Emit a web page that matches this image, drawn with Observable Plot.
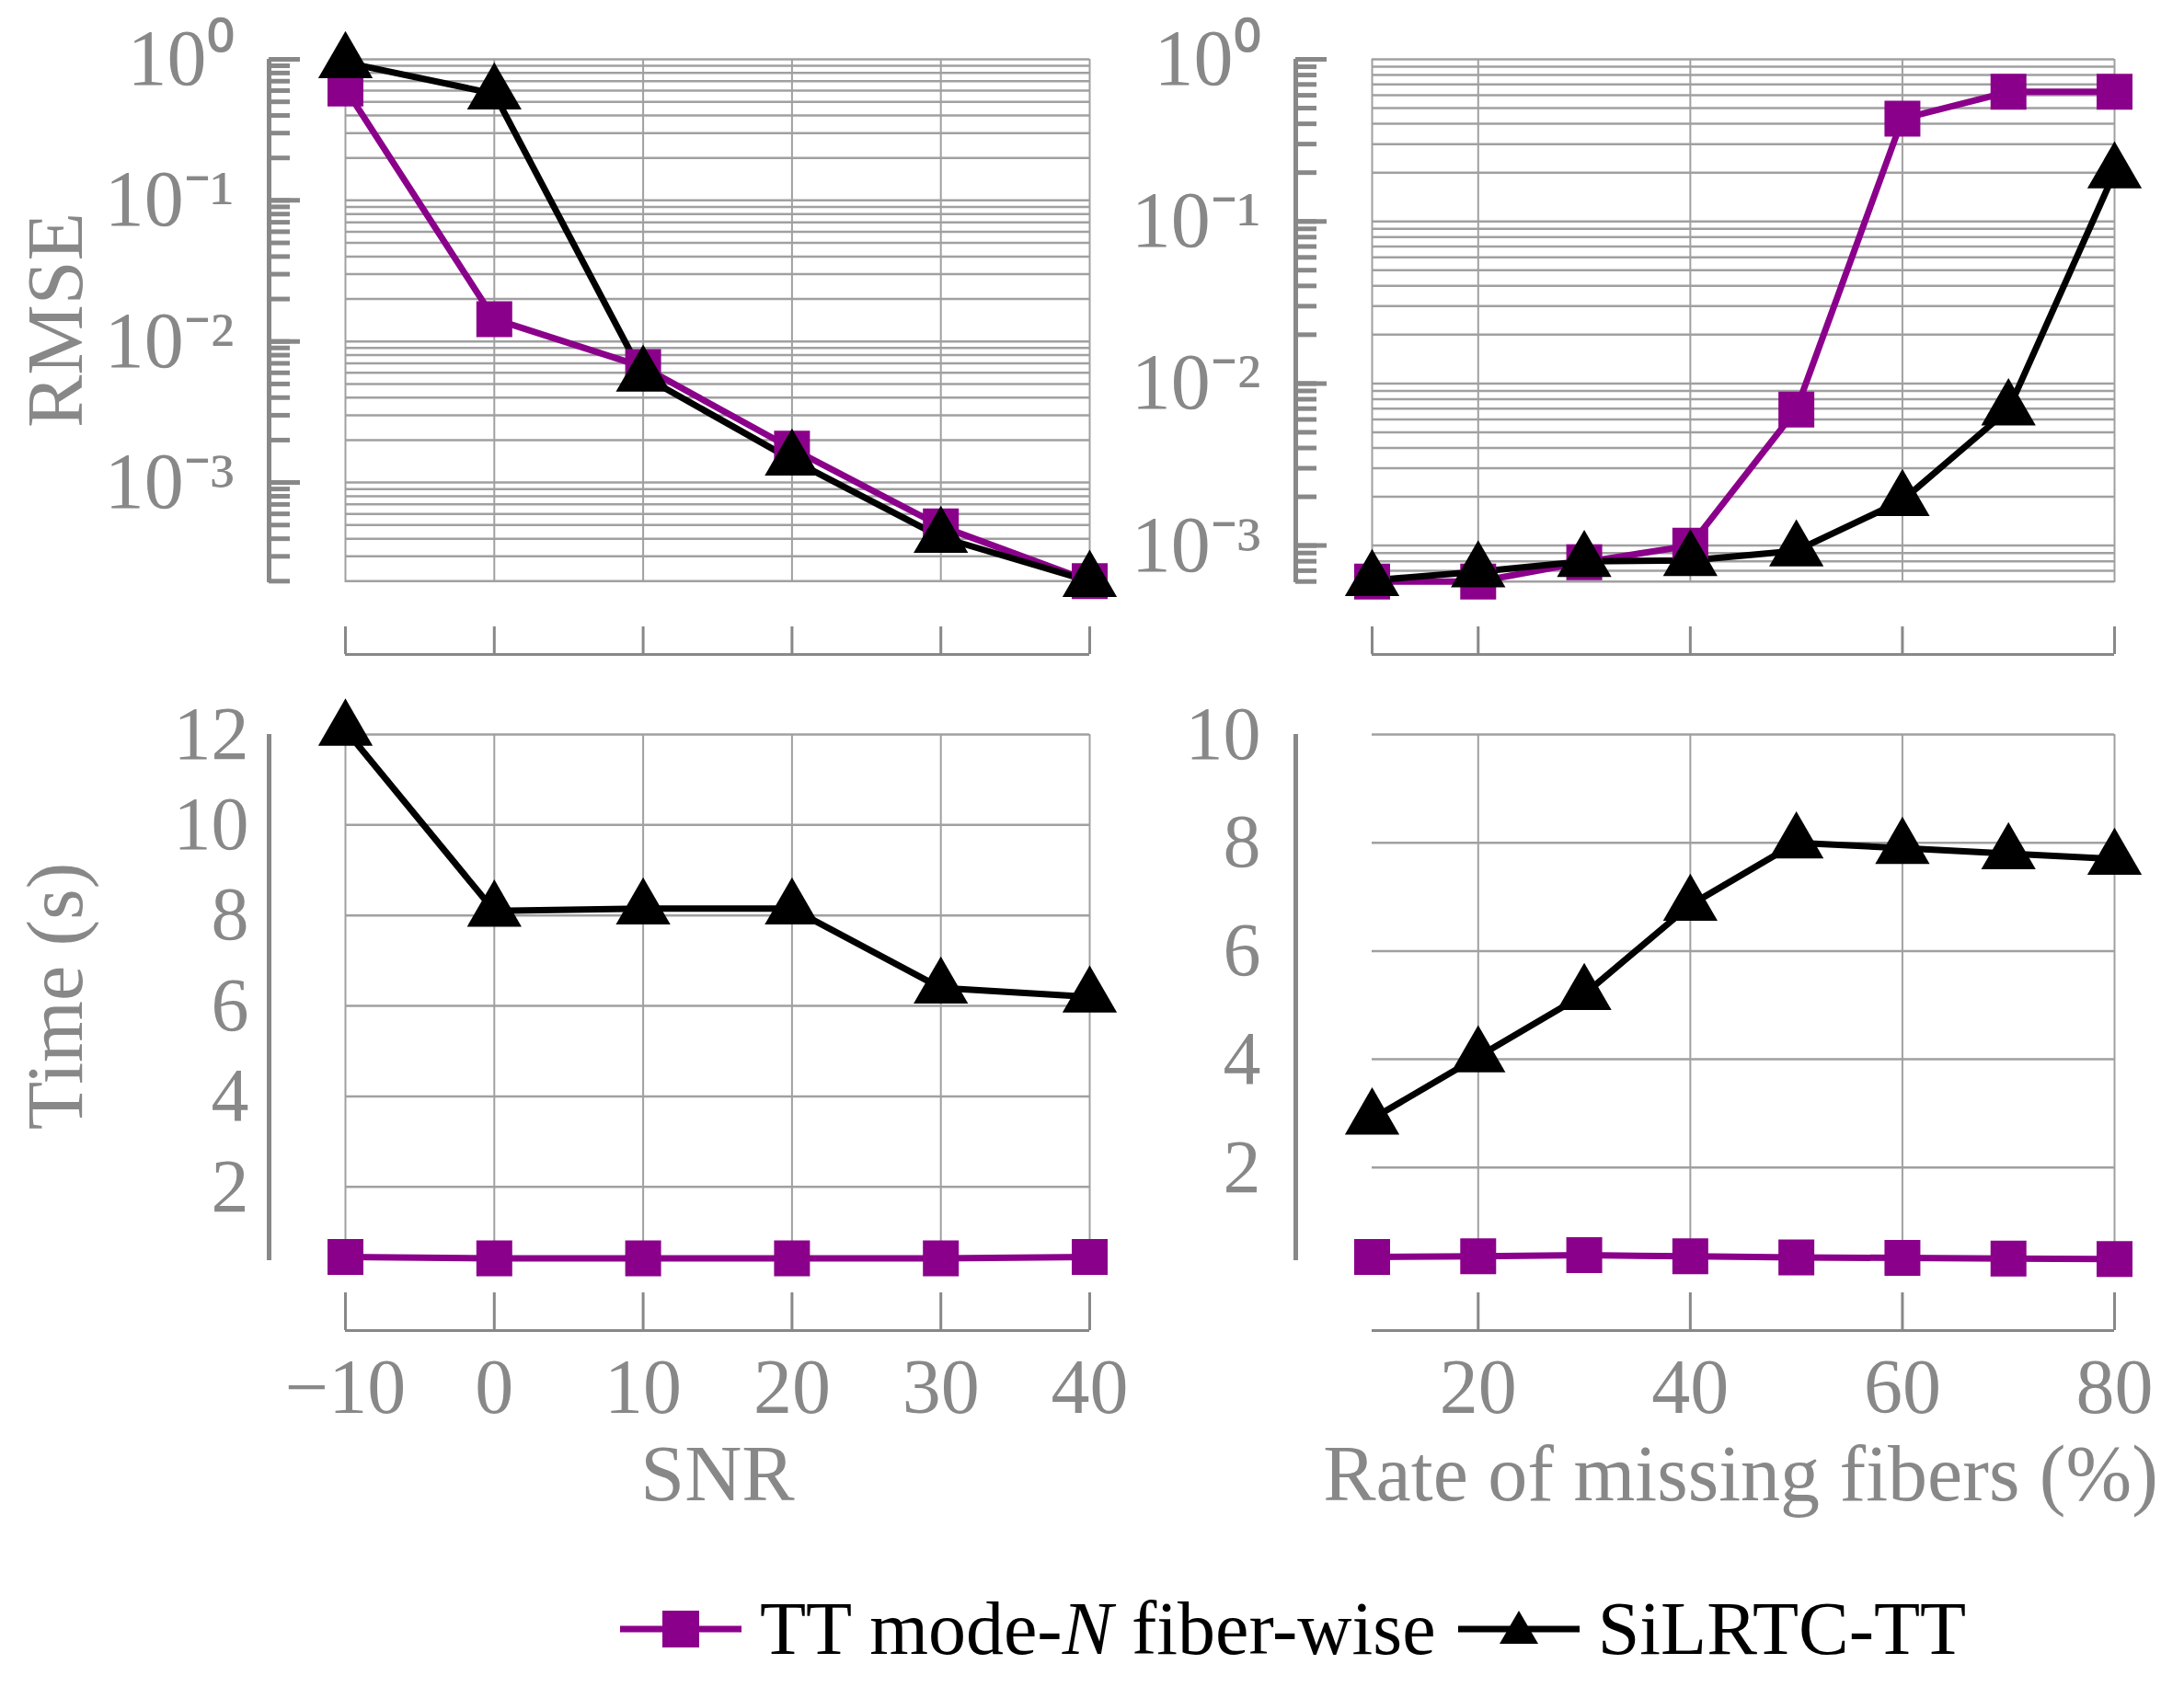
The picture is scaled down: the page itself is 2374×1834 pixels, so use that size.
<!DOCTYPE html>
<html><head><meta charset="utf-8">
<script src="https://cdn.jsdelivr.net/npm/d3@7"></script>
<script src="https://cdn.jsdelivr.net/npm/@observablehq/plot@0.6"></script>
<style>
body{margin:0;background:#fff;width:2374px;height:1834px;position:relative;overflow:hidden;font-family:"Liberation Serif",serif;color:#888}
.p{position:absolute}
.t{position:absolute;font-size:86px;color:#888;white-space:nowrap}
</style></head><body>
<div id="root"></div>
<script>
const snr=[-10,0,10,20,30,40];
const rmseTT_snr=[0.62,0.0144,0.0066,0.00174,0.00049,0.0002];
const rmseSi_snr=[0.95,0.57,0.0057,0.00145,0.00041,0.0002];
const rates=[10,20,30,40,50,60,70,80];
const rmseTT_rate=[0.0006,0.0006,0.00079,0.001,0.0069,0.43,0.63,0.63];
const rmseSi_rate=[0.00061,0.00069,0.0008,0.00081,0.00093,0.0019,0.0069,0.2];
const timeTT_snr=[0.45,0.42,0.42,0.42,0.42,0.45];
const timeSi_snr=[12.1,8.1,8.15,8.15,6.4,6.2];
const timeTT_rate=[0.35,0.36,0.38,0.36,0.34,0.33,0.32,0.31];
const timeSi_rate=[2.9,4.05,5.2,6.85,8.0,7.9,7.8,7.7];
const snrTicks=[-10,0,10,20,30,40];
const rateTicks=[20,40,60,80];
const logMajors=[1e-3,1e-2,1e-1,1];
const timeTicksL=[2,4,6,8,10,12];
const timeTicksR=[2,4,6,8,10];

const PURPLE="#8b008b", GRAY="#888", GRID="#a0a0a0";
const sup={"0":"⁰","1":"¹","2":"²","3":"³","4":"⁴","-":"⁻"};
const fmtLog=v=>"10"+String(Math.round(Math.log10(v))).split("").map(c=>sup[c]).join("");

function minors(dom){const out=[];for(let d=-4;d<=0;d++)for(let k=1;k<=9;k++){const v=k*Math.pow(10,d);if(v>=dom[0]*0.999&&v<=dom[1]*1.001)out.push(v);}return out;}

function panel(o){
  const tt=o.x.map((x,i)=>({x,y:o.tt[i]})), si=o.x.map((x,i)=>({x,y:o.si[i]}));
  const isLog=o.log;
  const yGrid=isLog?minors(o.yDomain):o.yTicks;
  const marks=[
    Plot.gridX(o.xTicks,{stroke:GRID,strokeOpacity:1,strokeWidth:2}),
    Plot.gridY(yGrid,{stroke:GRID,strokeOpacity:1,strokeWidth:2.5}),
    Plot.ruleX([o.xDomain[0]],{y1:o.yDomain[0],y2:o.yDomain[1],dx:-83,stroke:GRAY,strokeWidth:5}),
    Plot.ruleY([o.yDomain[0]],{x1:o.xDomain[0],x2:o.xDomain[1],dy:o.axDy,stroke:GRAY,strokeWidth:3}),
    Plot.axisX(o.xTicks,{anchor:"bottom",tickSize:-o.tickLen,dy:o.axDy,text:null,stroke:GRAY,strokeWidth:3,label:null}),
  ];
  if(isLog){
    marks.push(Plot.axisY(minors(o.yDomain),{anchor:"left",tickSize:-23,dx:-83,text:null,stroke:GRAY,strokeWidth:5,label:null}));
    marks.push(Plot.axisY(logMajors,{anchor:"left",tickSize:-34,dx:-83,text:null,stroke:GRAY,strokeWidth:5,label:null}));
  }
  marks.push(Plot.axisY(isLog?logMajors:o.yTicks,{anchor:"left",tickSize:0,tickPadding:o.yPad,dx:-83,tickFormat:isLog?fmtLog:d=>String(d),fontSize:isLog?86:82,fill:GRAY,label:null}));
  if(o.xLabels) marks.push(Plot.axisX(o.xTicks,{anchor:"bottom",tickSize:0,tickPadding:30,dy:o.axDy,fontSize:84,fill:GRAY,label:null}));
  marks.push(
    Plot.line(tt,{x:"x",y:"y",stroke:PURPLE,strokeWidth:7}),
    Plot.line(si,{x:"x",y:"y",stroke:"black",strokeWidth:7}),
    Plot.dot(tt,{x:"x",y:"y",symbol:"square",r:22,fill:PURPLE,stroke:null}),
    Plot.dot(si,{x:"x",y:"y",symbol:"triangle",r:22,fill:"black",stroke:null})
  );
  const svg=Plot.plot({
    width:o.w,height:o.h,marginLeft:o.ml,marginRight:o.mr,marginTop:o.mt,marginBottom:o.mb,
    x:{domain:o.xDomain},
    y:{type:isLog?"log":"linear",domain:o.yDomain},
    style:{fontFamily:"Liberation Serif",color:GRAY,background:"transparent",overflow:"visible"},
    marks
  });
  svg.classList.add("p");svg.style.left=o.left+"px";svg.style.top=o.top+"px";
  document.body.appendChild(svg);
}

panel({left:0,top:0,w:1200,h:760,ml:375,mr:16,mt:64,mb:127,x:snr,tt:rmseTT_snr,si:rmseSi_snr,xDomain:[-10,40],xTicks:snrTicks,log:true,yDomain:[1.95e-4,1],yPad:38,axDy:78,tickLen:30,xLabels:false});
panel({left:1200,top:0,w:1174,h:760,ml:291,mr:76,mt:64,mb:127,x:rates,tt:rmseTT_rate,si:rmseSi_rate,xDomain:[10,80],xTicks:rateTicks.concat([10]),log:true,yDomain:[5.9e-4,1],yPad:38,axDy:78,tickLen:30,xLabels:false});
panel({left:0,top:760,w:1200,h:880,ml:375,mr:16,mt:38,mb:270,x:snr,tt:timeTT_snr,si:timeSi_snr,xDomain:[-10,40],xTicks:snrTicks,log:false,yDomain:[0.37,12],yTicks:timeTicksL,yPad:22,axDy:76,tickLen:41,xLabels:true});
panel({left:1200,top:760,w:1174,h:880,ml:291,mr:76,mt:38,mb:270,x:rates,tt:timeTT_rate,si:timeSi_rate,xDomain:[10,80],xTicks:rateTicks,log:false,yDomain:[0.28,10],yTicks:timeTicksR,yPad:38,axDy:76,tickLen:41,xLabels:true});

function title(txt,x,y,rot){const d=document.createElement("div");d.className="t";d.innerHTML=txt;d.style.left=x+"px";d.style.top=y+"px";d.style.transform="translate(-50%,-50%)"+(rot?" rotate(-90deg)":"");document.body.appendChild(d);}
title("RMSE",60,348,true);
title("Time (s)",60,1083,true);
title("SNR",780,1602);
title("Rate of missing fibers (%)",1892,1602);

const lg=document.createElement("div");
lg.style.cssText="position:absolute;left:670px;top:1771px;transform:translateY(-50%);display:flex;align-items:center;font-size:82px;color:#000;white-space:nowrap";
lg.innerHTML=`<svg width="140" height="60"><line x1="4" y1="30" x2="136" y2="30" stroke="${PURPLE}" stroke-width="7"/><rect x="50" y="10" width="40" height="40" fill="${PURPLE}"/></svg><span style="margin:0 20px 0 16px">TT mode-<i>N</i> fiber-wise</span><svg width="140" height="60"><line x1="4" y1="30" x2="136" y2="30" stroke="#000" stroke-width="7"/><path d="M70,10 L91,46 L49,46 Z" fill="#000"/></svg><span style="margin-left:16px">SiLRTC-TT</span>`;
document.body.appendChild(lg);
</script></body></html>
